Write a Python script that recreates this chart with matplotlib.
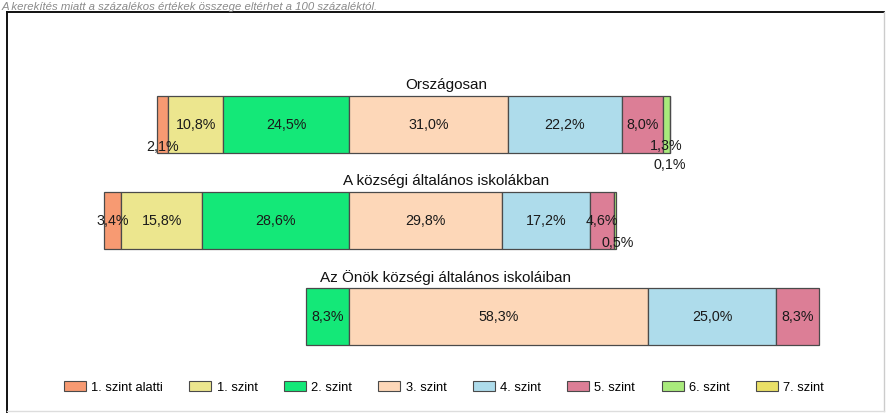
import matplotlib
matplotlib.use("Agg")
import matplotlib.pyplot as plt
from matplotlib.patches import Patch
from matplotlib.lines import Line2D

plt.rcParams['font.family'] = ['Liberation Sans', 'DejaVu Sans']

# ---------------- data ----------------
levels = ['1. szint alatti', '1. szint', '2. szint', '3. szint',
          '4. szint', '5. szint', '6. szint', '7. szint']
rows = ['Országosan', 'A községi általános iskolákban',
        'Az Önök községi általános iskoláiban']
orszagosan = [2.1, 10.8, 24.5, 31.0, 22.2, 8.0, 1.3, 0.1]
kozsegi = [3.4, 15.8, 28.6, 29.8, 17.2, 4.6, 0.5, 0.0]
onok = [0.0, 0.0, 8.3, 58.3, 25.0, 8.3, 0.0, 0.0]
series = [orszagosan, kozsegi, onok]
note = 'A kerekítés miatt a százalékos értékek összege eltérhet a 100 százaléktól.'

# ---------------- style ----------------
colors = ['#F79A72', '#ECE68E', '#14E878', '#FDD7B8',
          '#AEDCEB', '#DC7E96', '#A9EA7C', '#EAE067']
edge = '#4a4a4a'
W, H = 887, 414
center_px = 349          # pixel x of the 2./3. szint boundary
px_per_pct = 5.13
row0_px, row_step_px = 125, 96
bar_h = 57 / row_step_px
n_below = 3              # levels drawn left of the boundary
# label offsets in pixels for small segments: (row, level) -> (dx, dy)
label_offsets = {(0, 0): (0, 22), (0, 6): (0, 21), (0, 7): (0, 40),
                 (1, 6): (3, 22)}

fig = plt.figure(figsize=(W / 100, H / 100), dpi=100)
ax = fig.add_axes([0, 0, 1, 1])
ax.set_xlim(-center_px / px_per_pct, (W - center_px) / px_per_pct)
ax.set_ylim((H - row0_px) / row_step_px, -row0_px / row_step_px)
ax.axis('off')

px2pt = 72 / 100
for r, vals in enumerate(series):
    left = -sum(vals[:n_below])
    for k, v in enumerate(vals):
        if v > 0:
            ax.barh(r, v, left=left, height=bar_h, color=colors[k],
                    edgecolor=edge, linewidth=0.9)
            txt = f"{v:.1f}".replace('.', ',') + '%'
            dx, dy = label_offsets.get((r, k), (0, 0))
            ax.annotate(txt, (left + v / 2, r), xytext=(dx * px2pt, -dy * px2pt),
                        textcoords='offset points', ha='center', va='center',
                        fontsize=10.3, color='#1a1a1a')
        left += v
    title_x = (446 - center_px) / px_per_pct
    ax.text(title_x, r - bar_h / 2 - 11 / row_step_px, rows[r],
            ha='center', va='center', fontsize=11, color='#111111')

# note text
fig.text(2 / W, 1 - 7 / H, note, ha='left', va='center', fontsize=8.2,
         style='italic', color='#8a8a8a')

# frame
fig.add_artist(Line2D([7 / W, 884 / W], [1 - 13 / H, 1 - 13 / H],
                      transform=fig.transFigure, color='#111111', lw=1.4))
fig.add_artist(Line2D([7 / W, 7 / W], [1 - 13 / H, 0],
                      transform=fig.transFigure, color='#111111', lw=1.4))
fig.add_artist(Line2D([884 / W, 884 / W], [1 - 13 / H, 2 / H],
                      transform=fig.transFigure, color='#cccccc', lw=1.0))
fig.add_artist(Line2D([7 / W, 884 / W], [2 / H, 2 / H],
                      transform=fig.transFigure, color='#dddddd', lw=1.0))

handles = [Patch(facecolor=c, edgecolor=edge, linewidth=0.8) for c in colors]
fig.legend(handles, levels, loc='center', bbox_to_anchor=(444 / W, 1 - 388 / H),
           ncol=8, frameon=False,
           prop={'family': ['Liberation Sans'], 'size': 9.3},
           handlelength=1.7, handleheight=0.8, handletextpad=0.4,
           columnspacing=2.05)

fig.savefig('out.png', dpi=100)
